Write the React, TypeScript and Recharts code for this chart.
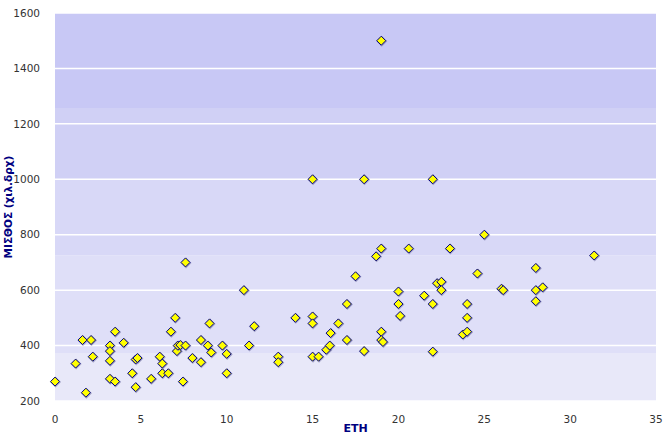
import { ScatterChart, Scatter, XAxis, YAxis, ReferenceArea, ReferenceLine } from 'recharts';

// years of service (ΕΤΗ) and salary (thousand drachmas), one pair per employee
const years = [
  0, 1.2, 1.6, 1.8, 2.1, 2.2, 3.2, 3.2, 3.2, 3.2, 3.5, 3.5, 4, 4.5, 4.7, 4.8, 4.7, 5.6, 6.1, 6.25,
  6.25, 6.6, 6.75, 7, 7.1, 7.15, 7.3, 7.45, 7.6, 7.6, 8, 8.5, 8.5, 8.9, 9, 9.1, 9.75, 10, 10, 11,
  11.3, 11.6, 13, 13, 14, 15, 15, 15, 15, 15.35, 15.8, 16, 16.05, 16.5, 17, 17, 17.5, 18, 18, 18.7,
  19, 19, 19, 19.1, 19, 20, 20, 20.1, 20.6, 21.5, 22, 22, 22, 22.25, 22.5, 22.5, 23, 23.75, 24, 24,
  24, 24.6, 25, 26, 26.1, 28, 28, 28.4, 28, 31.4,
];
const salaries = [
  270, 335, 420, 230, 420, 360, 400, 380, 345, 280, 450, 270, 410, 300, 350, 355, 250, 280, 360, 335,
  300, 300, 450, 500, 380, 400, 402, 270, 400, 700, 355, 420, 340, 400, 480, 375, 400, 370, 300, 600,
  400, 470, 360, 340, 500, 505, 480, 360, 1000, 360, 385, 400, 445, 480, 550, 420, 650, 380, 1000, 722,
  750, 450, 420, 413, 1500, 595, 550, 507, 750, 580, 550, 378, 1000, 625, 630, 600, 750, 440, 550, 500,
  450, 660, 800, 605, 600, 680, 600, 610, 560, 725,
];

const xTicks = [0, 5, 10, 15, 20, 25, 30, 35];
const yTicks = [200, 400, 600, 800, 1000, 1200, 1400, 1600];

// shaded background bands: [from, to]
const bandLimits = [
  [200, 373],
  [373, 726],
  [726, 1000],
  [1000, 1257],
  [1257, 1600],
];
const bandColors = ['#e8e8f9', '#dfdff8', '#d8d8f7', '#d0d0f5', '#c8c8f5'];

const data = years.map((x, i) => ({ x, y: salaries[i] }));

const tickStyle = { fontFamily: 'DejaVu Sans', fontSize: 10.5, fill: '#333' };

function Diamond(props: any) {
  const { cx, cy } = props;
  const r = 4.5;
  const pts = (dx: number, dy: number, s: number) =>
    `${cx + dx},${cy + dy - s} ${cx + dx + s},${cy + dy} ${cx + dx},${cy + dy + s} ${cx + dx - s},${cy + dy}`;
  return (
    <g>
      <polygon points={pts(0.5, 0.5, r + 1)} fill="#7070a0" fillOpacity={0.55} />
      <polygon points={pts(0, 0, r)} fill="#ffff00" stroke="#000080" strokeWidth={1} />
    </g>
  );
}

export default function App() {
  return (
    <div style={{ position: 'absolute', left: 0, top: 0, width: 663, height: 434, background: '#fff' }}>
      <ScatterChart width={663} height={434} margin={{ top: 13, right: 7, left: 0, bottom: 0 }}>
        <XAxis
          type="number"
          dataKey="x"
          domain={[0, 35]}
          ticks={xTicks}
          axisLine={false}
          tickLine={false}
          tick={tickStyle}
          height={33}
          tickMargin={9}
          label={{
            value: 'ΕΤΗ',
            position: 'insideBottom',
            offset: 2,
            style: { fontFamily: 'DejaVu Sans', fontSize: 11, fontWeight: 'bold', fill: '#000080' },
          }}
        />
        <YAxis
          type="number"
          dataKey="y"
          domain={[200, 1600]}
          ticks={yTicks}
          axisLine={false}
          tickLine={false}
          tick={tickStyle}
          width={55}
          tickMargin={9}
          label={{
            value: 'ΜΙΣΘΟΣ (χιλ.δρχ)',
            angle: -90,
            position: 'insideLeft',
            offset: 8,
            style: { textAnchor: 'middle', fontFamily: 'DejaVu Sans', fontSize: 10.5, fontWeight: 'bold', fill: '#000080' },
          }}
        />
        {bandLimits.map(([y1, y2], i) => (
          <ReferenceArea key={i} y1={y1} y2={y2} fill={bandColors[i]} fillOpacity={1} stroke="none" ifOverflow="visible" />
        ))}
        {yTicks.map((t) => (
          <ReferenceLine key={t} y={t} stroke="#ffffff" strokeWidth={1.5} />
        ))}
        <Scatter data={data} shape={Diamond} isAnimationActive={false} />
      </ScatterChart>
    </div>
  );
}
